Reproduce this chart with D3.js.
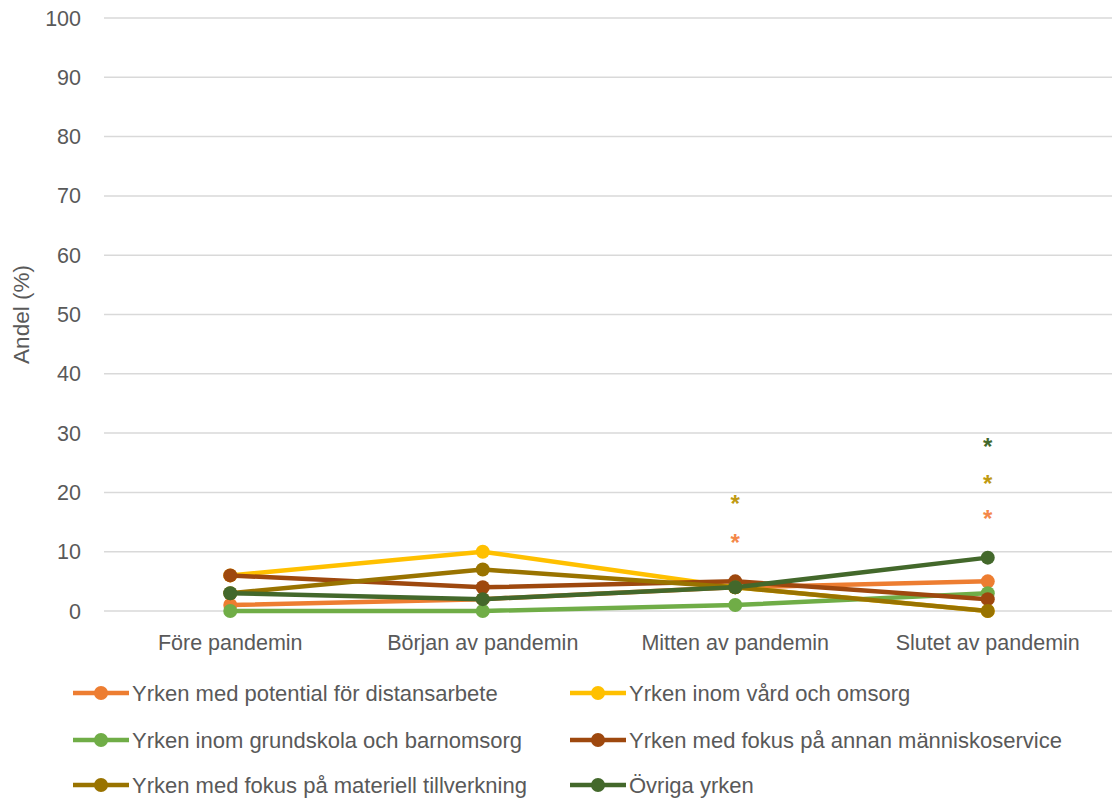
<!DOCTYPE html>
<html><head><meta charset="utf-8">
<script src="https://cdn.jsdelivr.net/npm/d3@7"></script>
<style>body{margin:0;background:#fff}svg{display:block}</style>
</head><body><svg id="c" width="1112" height="798"></svg>
<script>
const categories = ["Före pandemin","Början av pandemin","Mitten av pandemin","Slutet av pandemin"];
const seriesNames = ["Yrken med potential för distansarbete","Yrken inom vård och omsorg","Yrken inom grundskola och barnomsorg","Yrken med fokus på annan människoservice","Yrken med fokus på materiell tillverkning","Övriga yrken"];
const seriesColors = ["#ED7D31","#FFC000","#70AD47","#9E480E","#997300","#43682B"];
const distans = [1,2,4,5];
const vard = [6,10,4,0];
const grundskola = [0,0,1,3];
const manniskoservice = [6,4,5,2];
const tillverkning = [3,7,4,0];
const ovriga = [3,2,4,9];
const seriesValues = [distans,vard,grundskola,manniskoservice,tillverkning,ovriga];
const yTicks = [0,10,20,30,40,50,60,70,80,90,100];
// significance markers: category, y position (value units), colour
const starCats = ["Mitten av pandemin","Mitten av pandemin","Slutet av pandemin","Slutet av pandemin","Slutet av pandemin"];
const starVals = [18.7,12.1,28.3,22.1,16.2];
const starColors = ["#C09A12","#F4884A","#43682B","#C09A12","#F4884A"];

const svg = d3.select("#c");
const mLeft=104, mRight=1114, mTop=18, mBottom=611;
const x = d3.scaleBand().domain(categories).range([mLeft,mRight]);
const y = d3.scaleLinear().domain([0,100]).range([mBottom,mTop]);
const font = "'Liberation Sans', Arial, sans-serif";

svg.append("g").selectAll("line").data(yTicks).join("line")
  .attr("x1",mLeft).attr("x2",mRight).attr("y1",d=>y(d)).attr("y2",d=>y(d))
  .attr("stroke","#D9D9D9").attr("stroke-width",1.5);
svg.append("g").selectAll("text").data(yTicks).join("text")
  .attr("x",81).attr("y",d=>y(d)).attr("dy","0.35em").attr("text-anchor","end")
  .attr("font-family",font).attr("font-size",21.5).attr("fill","#595959").text(d=>d);
svg.append("g").selectAll("text").data(categories).join("text")
  .attr("x",d=>x(d)+x.bandwidth()/2).attr("y",642).attr("dy","0.35em").attr("text-anchor","middle")
  .attr("font-family",font).attr("font-size",21.5).attr("fill","#595959").text(d=>d);
svg.append("text").attr("transform",`translate(29,${(mTop+mBottom)/2}) rotate(-90)`)
  .attr("text-anchor","middle").attr("font-family",font).attr("font-size",22.5).attr("fill","#595959").text("Andel (%)");

const cx = c => x(c)+x.bandwidth()/2;
const line = d3.line().x((d,i)=>cx(categories[i])).y(d=>y(d));
seriesValues.forEach((vals,k)=>{
  const g = svg.append("g");
  g.append("path").attr("d",line(vals)).attr("fill","none").attr("stroke",seriesColors[k])
    .attr("stroke-width",4.5).attr("stroke-linejoin","round").attr("stroke-linecap","round");
  g.selectAll("circle").data(vals).join("circle").attr("cx",(d,i)=>cx(categories[i])).attr("cy",d=>y(d))
    .attr("r",7).attr("fill",seriesColors[k]);
});

svg.append("g").selectAll("text").data(starVals).join("text")
  .attr("x",(d,i)=>cx(starCats[i])).attr("y",d=>y(d)).attr("dy","0.5em").attr("text-anchor","middle")
  .attr("font-family",font).attr("font-size",24).attr("font-weight","bold").attr("fill",(d,i)=>starColors[i]).text("*");

const legX=[73,570], legY=[693,740,785];
const leg = svg.append("g").selectAll("g").data(seriesNames).join("g")
  .attr("transform",(d,i)=>`translate(${legX[i%2]},${legY[Math.floor(i/2)]})`);
leg.append("line").attr("x1",0).attr("x2",56).attr("stroke",(d,i)=>seriesColors[i]).attr("stroke-width",4.5);
leg.append("circle").attr("cx",28).attr("r",7).attr("fill",(d,i)=>seriesColors[i]);
leg.append("text").attr("x",59).attr("dy","0.35em").attr("font-family",font).attr("font-size",22)
  .attr("fill","#595959").text(d=>d);
</script></body></html>
